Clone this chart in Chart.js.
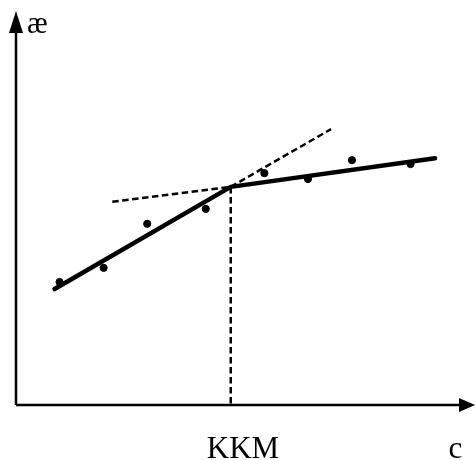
<!DOCTYPE html>
<html>
<head>
<meta charset="utf-8">
<script src="https://cdn.jsdelivr.net/npm/chart.js@4"></script>
<style>
    body { margin: 0; background: #fff; }
    #wrap { width: 475px; height: 460px; }
</style>
</head>
<body>
<div id="wrap"><canvas id="kkm" width="475" height="460"></canvas></div>
<script>
// measured points (conductivity vs concentration)
const concX = [0.96, 1.93, 2.89, 4.18, 5.47, 6.43, 7.40, 8.69]
const kappaY = [3.13, 3.49, 4.61, 4.99, 5.90, 5.75, 6.23, 6.13]

// fitted broken line: start, break (CMC), end
const fitX = [0.85, 4.73, 9.23]
const fitY = [2.95, 5.55, 6.28]

// dashed extensions of the two segments
const extUpX = [4.73, 6.94]
const extUpY = [5.55, 7.02]
const extDownX = [2.12, 4.73]
const extDownY = [5.17, 5.55]

// drop line from break to the x axis
const dropX = [4.73, 4.73]
const dropY = [5.55, 0]

const axisLabels = ["KKM", "c"]
const axisLabelX = [5.0, 9.68]
const yLabel = "æ"

function pts(xs, ys) {
    return xs.map((x, i) => ({ x: x, y: ys[i] }))
}

// axes with arrow heads + text labels
const axesPlugin = {
    id: 'axesArrows',
    afterDraw(chart) {
        const ctx = chart.ctx
        const xs = chart.scales.x
        const ys = chart.scales.y
        const x0 = xs.getPixelForValue(0)
        const y0 = ys.getPixelForValue(0)
        ctx.save()
        ctx.strokeStyle = '#000'
        ctx.fillStyle = '#000'
        ctx.lineWidth = 2.5

        // y axis
        ctx.beginPath()
        ctx.moveTo(x0, y0)
        ctx.lineTo(x0, 30)
        ctx.stroke()
        ctx.beginPath()
        ctx.moveTo(x0, 11)
        ctx.lineTo(x0 - 7, 33)
        ctx.lineTo(x0 + 7, 33)
        ctx.closePath()
        ctx.fill()

        // x axis
        ctx.beginPath()
        ctx.moveTo(x0, y0)
        ctx.lineTo(462, y0)
        ctx.stroke()
        ctx.beginPath()
        ctx.moveTo(475, y0)
        ctx.lineTo(459, y0 - 7)
        ctx.lineTo(459, y0 + 7)
        ctx.closePath()
        ctx.fill()

        ctx.font = '31px "Liberation Serif", "Times New Roman", serif'
        ctx.textBaseline = 'alphabetic'
        ctx.textAlign = 'center'
        axisLabels.forEach((t, i) => {
            ctx.fillText(t, xs.getPixelForValue(axisLabelX[i]), 458)
        })
        ctx.textAlign = 'left'
        ctx.fillText(yLabel, 27, 33)
        ctx.restore()
    }
}

const dashed = {
    showLine: true,
    borderColor: '#000',
    borderWidth: 2.5,
    borderDash: [6.5, 3.5],
    pointRadius: 0,
    clip: false
}

const ctx = document.getElementById('kkm')
const kkmChart = new Chart(ctx, {
    type: 'scatter',
    data: {
        datasets: [{
            label: 'points',
            data: pts(concX, kappaY),
            backgroundColor: '#000',
            borderColor: '#000',
            pointRadius: 3.6,
            showLine: false
        }, {
            label: 'fit',
            data: pts(fitX, fitY),
            showLine: true,
            borderColor: '#000',
            borderWidth: 4.5,
            pointRadius: 0,
            borderJoinStyle: 'round',
            borderCapStyle: 'round',
            clip: false
        },
        Object.assign({ label: 'ext up', data: pts(extUpX, extUpY) }, dashed),
        Object.assign({ label: 'ext down', data: pts(extDownX, extDownY) }, dashed),
        Object.assign({ label: 'drop', data: pts(dropX, dropY) }, dashed)
        ]
    },
    options: {
        responsive: false,
        animation: false,
        devicePixelRatio: 1,
        layout: {
            padding: { left: 16, right: 2, top: 12, bottom: 55 }
        },
        plugins: {
            legend: { display: false },
            tooltip: { enabled: false }
        },
        scales: {
            x: { type: 'linear', min: 0, max: 10, display: false },
            y: { type: 'linear', min: 0, max: 10, display: false }
        }
    },
    plugins: [axesPlugin]
})
</script>
</body>
</html>
